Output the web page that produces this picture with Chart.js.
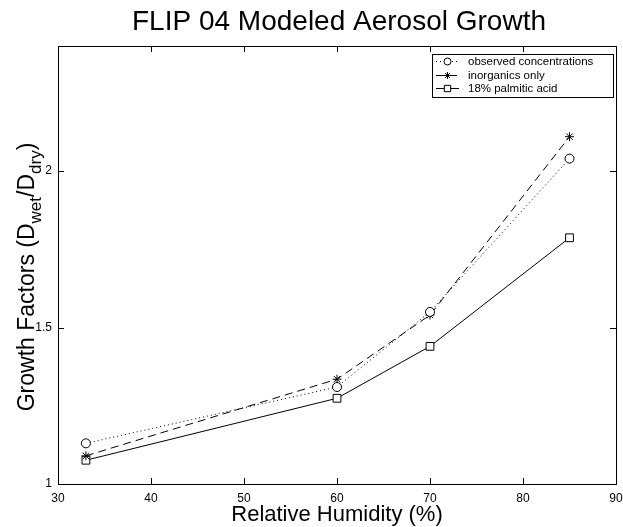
<!DOCTYPE html>
<html lang="en">
  <head>
    <meta charset="UTF-8" />
    <title>FLIP 04 Modeled Aerosol Growth</title>
    <style>
      body {
        margin: 0;
        background-color: #fff;
      }
      #wrap {
        width: 623px;
        height: 527px;
      }
    </style>
    <script src="https://cdn.jsdelivr.net/npm/chart.js"></script>
  </head>
  <body>
    <div id="wrap"><canvas id="chart" width="623" height="527"></canvas></div>
    <script>
      // data
      const humidity = [33, 60, 70, 85];
      const observed = [1.13, 1.31, 1.55, 2.04];
      const inorganics = [1.09, 1.335, 1.54, 2.11];
      const palmitic = [1.076, 1.274, 1.44, 1.787];
      const xTicks = [30, 40, 50, 60, 70, 80, 90];
      const yTicks = [1, 1.5, 2];
      const seriesNames = ["observed concentrations", "inorganics only", "18% palmitic acid"];

      const font = "'Liberation Sans', Arial, sans-serif";

      function pts(ys) {
        return humidity.map((x, i) => ({ x: x, y: ys[i] }));
      }

      // MATLAB-ish extras: title, y label with subscripts, inward ticks, box, legend
      const matlabBits = {
        id: "matlabBits",
        afterDraw(chart) {
          const ctx = chart.ctx;
          const a = chart.chartArea;
          const xs = chart.scales.x;
          const ys = chart.scales.y;
          ctx.save();

          // box
          ctx.strokeStyle = "#000";
          ctx.lineWidth = 1;
          ctx.strokeRect(a.left + 0.5, a.top + 0.5, a.right - a.left, a.bottom - a.top);

          // inward ticks
          ctx.beginPath();
          xTicks.forEach((v) => {
            const px = Math.round(xs.getPixelForValue(v)) + 0.5;
            ctx.moveTo(px, a.bottom);
            ctx.lineTo(px, a.bottom - 6);
            ctx.moveTo(px, a.top);
            ctx.lineTo(px, a.top + 6);
          });
          yTicks.forEach((v) => {
            const py = Math.round(ys.getPixelForValue(v)) + 0.5;
            ctx.moveTo(a.left, py);
            ctx.lineTo(a.left + 6, py);
            ctx.moveTo(a.right, py);
            ctx.lineTo(a.right - 6, py);
          });
          ctx.stroke();

          // title
          ctx.fillStyle = "#000";
          ctx.textAlign = "center";
          ctx.textBaseline = "middle";
          ctx.font = "28px " + font;
          ctx.fillText("FLIP 04 Modeled Aerosol Growth", (a.left + a.right) / 2 + 2, 22);

          // x label
          ctx.font = "22px " + font;
          ctx.fillText("Relative Humidity (%)", (a.left + a.right) / 2, 515);

          // y label with subscripts
          ctx.translate(26, 277);
          ctx.rotate(-Math.PI / 2);
          const parts = [
            ["Growth Factors (D", 23, 0],
            ["wet", 17, 7],
            ["/D", 23, 0],
            ["dry", 17, 7],
            [")", 23, 0],
          ];
          let total = 0;
          parts.forEach((p) => {
            ctx.font = p[1] + "px " + font;
            total += ctx.measureText(p[0]).width;
          });
          let cx = -total / 2;
          ctx.textAlign = "left";
          ctx.textBaseline = "alphabetic";
          parts.forEach((p) => {
            ctx.font = p[1] + "px " + font;
            ctx.fillText(p[0], cx, 8 + p[2]);
            cx += ctx.measureText(p[0]).width;
          });
          ctx.restore();

          // legend
          ctx.save();
          const lx = 432, ly = 54, lw = 181, lh = 43;
          ctx.fillStyle = "#fff";
          ctx.fillRect(lx, ly, lw, lh);
          ctx.strokeStyle = "#000";
          ctx.lineWidth = 1;
          ctx.strokeRect(lx + 0.5, ly + 0.5, lw, lh);
          const rows = [61, 75, 88];
          const legendRadius = [3.5, 3.5, 4.5];
          chart.data.datasets.forEach((ds, i) => {
            const y = rows[i] + 0.5;
            ctx.strokeStyle = "#000";
            ctx.lineWidth = 1;
            ctx.setLineDash(ds.borderDash || []);
            ctx.beginPath();
            ctx.moveTo(436, y);
            ctx.lineTo(459, y);
            ctx.stroke();
            ctx.setLineDash([]);
            ctx.fillStyle = "#fff";
            Chart.helpers.drawPoint(
              ctx,
              {
                pointStyle: ds.pointStyle,
                radius: legendRadius[i],
                borderWidth: 1,
              },
              447.5,
              y
            );
            ctx.fillStyle = "#000";
            ctx.font = "11.5px " + font;
            ctx.textAlign = "left";
            ctx.textBaseline = "middle";
            ctx.fillText(seriesNames[i], 468, y);
          });
          ctx.restore();
        },
      };

      const common = {
        borderColor: "#000",
        borderWidth: 1,
        pointBorderColor: "#000",
        pointBackgroundColor: "#fff",
        pointBorderWidth: 1,
        fill: false,
        tension: 0,
      };

      new Chart(document.getElementById("chart"), {
        type: "scatter",
        data: {
          datasets: [
            Object.assign({}, common, {
              label: seriesNames[0],
              data: pts(observed),
              showLine: true,
              borderDash: [1, 3],
              pointStyle: "circle",
              pointRadius: 4.5,
            }),
            Object.assign({}, common, {
              label: seriesNames[1],
              data: pts(inorganics),
              showLine: true,
              borderDash: [8, 5],
              pointStyle: "star",
              pointRadius: 4.5,
            }),
            Object.assign({}, common, {
              label: seriesNames[2],
              data: pts(palmitic),
              showLine: true,
              pointStyle: "rect",
              pointRadius: 5.5,
            }),
          ],
        },
        options: {
          responsive: false,
          animation: false,
          layout: { padding: { top: 46, right: 7, left: 0, bottom: 0 } },
          plugins: {
            legend: { display: false },
            title: { display: false },
            tooltip: { enabled: false },
          },
          scales: {
            x: {
              type: "linear",
              min: 30,
              max: 90,
              grid: { display: false, drawTicks: false },
              border: { display: false },
              afterBuildTicks: (s) => {
                s.ticks = xTicks.map((v) => ({ value: v }));
              },
              afterFit: (s) => {
                s.height = 43;
                s.paddingLeft = 0;
                s.paddingRight = 0;
              },
              ticks: {
                color: "#000",
                padding: 7,
                maxRotation: 0,
                callback: (v) => String(v),
                font: { family: font, size: 12 },
              },
            },
            y: {
              type: "linear",
              min: 1,
              max: 2.4,
              grid: { display: false, drawTicks: false },
              border: { display: false },
              afterBuildTicks: (s) => {
                s.ticks = yTicks.map((v) => ({ value: v }));
              },
              afterFit: (s) => {
                s.width = 58;
                s.paddingTop = 0;
                s.paddingBottom = 0;
              },
              ticks: {
                color: "#000",
                padding: 6,
                callback: (v) => String(v),
                font: { family: font, size: 12 },
              },
            },
          },
        },
        plugins: [matlabBits],
      });
    </script>
  </body>
</html>
